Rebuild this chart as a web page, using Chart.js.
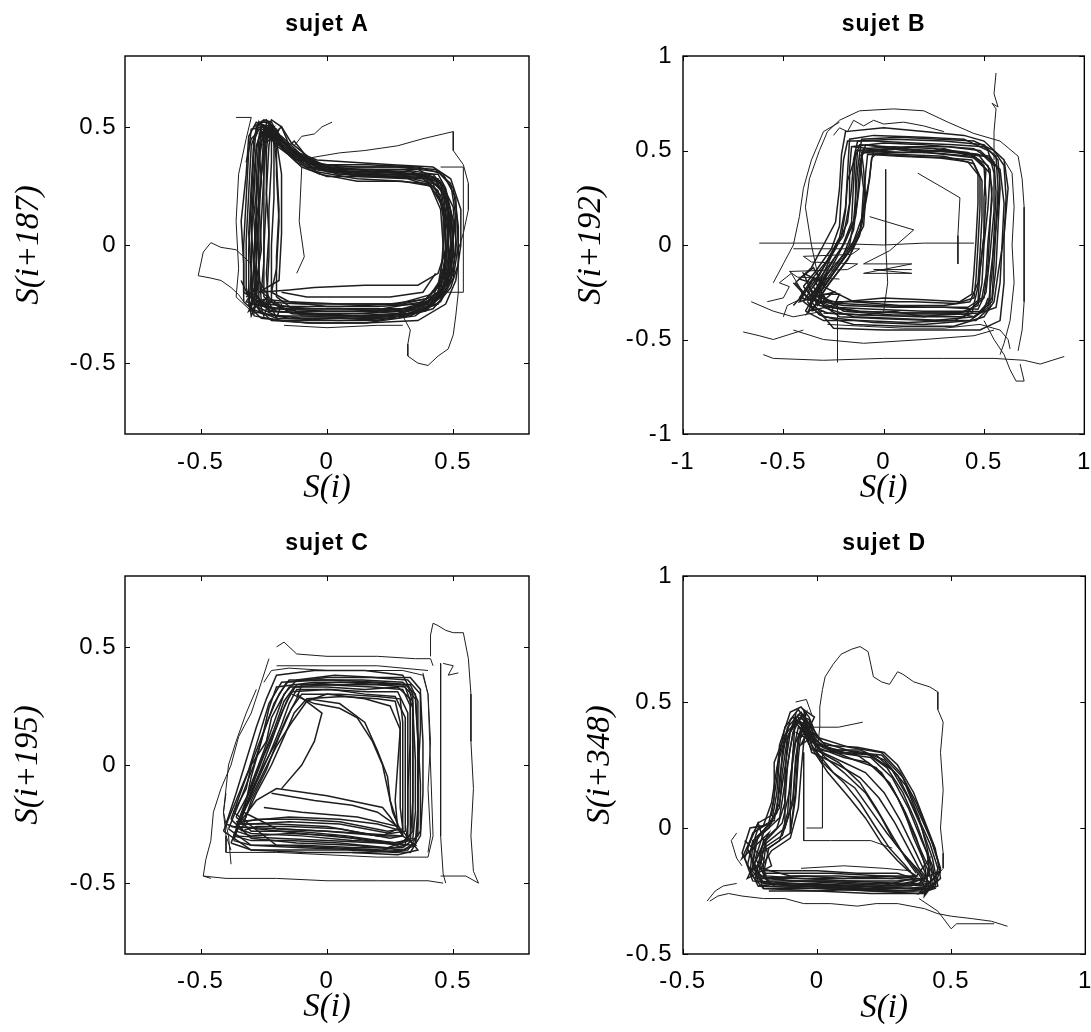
<!DOCTYPE html>
<html>
<head>
<meta charset="utf-8">
<title>sujets A - D</title>
<script src="https://cdn.jsdelivr.net/npm/chart.js@4.4.1/dist/chart.umd.min.js"></script>
<style>
  html, body { margin: 0; padding: 0; background: #fff; overflow: hidden; }
  body { width: 1091px; height: 1032px; position: relative; }
  canvas { position: absolute; }
</style>
</head>
<body>
<canvas id="chartA" width="545" height="516" style="left:0;top:0"></canvas>
<canvas id="chartB" width="560" height="516" style="left:545px;top:0"></canvas>
<canvas id="chartC" width="545" height="516" style="left:0;top:516px"></canvas>
<canvas id="chartD" width="560" height="516" style="left:545px;top:516px"></canvas>
<script>
// Phase portraits S(i) vs S(i+delay), one loop per cycle, flat [x0,y0,x1,y1,...]

// ---- sujet A (delay 187) ----
const ticksA = [-0.5, 0, 0.5];
const rangeA = [-0.8, 0.8];
const loopsA = [
  [-0.28,-0.22, -0.29,-0.05, -0.28,0.15, -0.27,0.35, -0.25,0.49, -0.2,0.45, -0.12,0.37, -0.02,0.32, 0.15,0.31, 0.35,0.3, 0.43,0.27, 0.48,0.18, 0.49,0.02, 0.48,-0.14, 0.43,-0.23, 0.3,-0.27, 0.1,-0.28, -0.12,-0.28, -0.24,-0.26, -0.28,-0.22],
  [-0.3,-0.2, -0.3,0.0, -0.29,0.2, -0.28,0.4, -0.26,0.51, -0.22,0.5, -0.16,0.42, -0.06,0.34, 0.1,0.32, 0.3,0.32, 0.42,0.3, 0.47,0.23, 0.5,0.1, 0.5,-0.05, 0.47,-0.17, 0.4,-0.26, 0.25,-0.3, 0.0,-0.3, -0.2,-0.3, -0.28,-0.26, -0.3,-0.2],
  [-0.26,-0.24, -0.27,-0.1, -0.26,0.1, -0.25,0.3, -0.24,0.46, -0.2,0.47, -0.14,0.4, -0.04,0.33, 0.12,0.29, 0.32,0.28, 0.41,0.25, 0.46,0.16, 0.47,0.0, 0.46,-0.13, 0.41,-0.21, 0.28,-0.25, 0.05,-0.26, -0.15,-0.26, -0.24,-0.25, -0.26,-0.24],
  [-0.32,-0.18, -0.32,0.02, -0.31,0.22, -0.3,0.42, -0.27,0.52, -0.23,0.52, -0.19,0.45, -0.1,0.36, 0.05,0.33, 0.28,0.33, 0.44,0.31, 0.5,0.24, 0.52,0.08, 0.52,-0.08, 0.49,-0.18, 0.42,-0.27, 0.28,-0.31, 0.05,-0.32, -0.2,-0.31, -0.3,-0.27, -0.32,-0.18],
  [-0.24,-0.26, -0.23,-0.05, -0.23,0.15, -0.22,0.35, -0.22,0.47, -0.18,0.44, -0.1,0.37, 0.0,0.31, 0.18,0.3, 0.38,0.29, 0.45,0.24, 0.49,0.12, 0.49,-0.04, 0.47,-0.16, 0.41,-0.25, 0.26,-0.28, 0.06,-0.27, -0.12,-0.27, -0.22,-0.27, -0.24,-0.26],
  [-0.29,-0.23, -0.28,-0.06, -0.29,0.12, -0.27,0.32, -0.26,0.48, -0.21,0.48, -0.15,0.41, -0.07,0.35, 0.08,0.31, 0.26,0.31, 0.4,0.29, 0.46,0.22, 0.48,0.06, 0.47,-0.1, 0.44,-0.2, 0.36,-0.27, 0.15,-0.29, -0.05,-0.29, -0.22,-0.28, -0.29,-0.23],
  [-0.27,-0.2, -0.19,-0.15, -0.18,0.05, -0.18,0.3, -0.2,0.44, -0.15,0.4, -0.06,0.33, 0.1,0.3, 0.3,0.29, 0.42,0.26, 0.46,0.15, 0.47,-0.02, 0.44,-0.12, 0.36,-0.17, 0.15,-0.17, -0.05,-0.18, -0.15,-0.19, -0.27,-0.2],
  [-0.31,-0.21, -0.31,-0.02, -0.3,0.18, -0.29,0.38, -0.28,0.5, -0.24,0.53, -0.2,0.46, -0.13,0.39, -0.03,0.34, 0.16,0.34, 0.36,0.33, 0.46,0.3, 0.51,0.2, 0.52,0.0, 0.5,-0.14, 0.45,-0.24, 0.33,-0.3, 0.12,-0.31, -0.1,-0.31, -0.26,-0.29, -0.31,-0.21],
  [-0.25,-0.22, -0.25,-0.02, -0.24,0.2, -0.24,0.4, -0.23,0.5, -0.19,0.46, -0.11,0.38, -0.01,0.33, 0.14,0.32, 0.33,0.31, 0.44,0.28, 0.48,0.18, 0.48,0.05, 0.48,-0.1, 0.45,-0.2, 0.38,-0.26, 0.2,-0.28, 0.0,-0.28, -0.18,-0.27, -0.25,-0.22],
  [-0.3,-0.25, -0.29,-0.08, -0.28,0.08, -0.28,0.28, -0.27,0.45, -0.23,0.49, -0.17,0.43, -0.09,0.36, 0.04,0.3, 0.22,0.29, 0.39,0.28, 0.45,0.21, 0.47,0.09, 0.47,-0.07, 0.44,-0.18, 0.38,-0.24, 0.22,-0.27, 0.02,-0.27, -0.2,-0.27, -0.3,-0.25],
  [-0.27,-0.27, -0.27,-0.1, -0.27,0.1, -0.26,0.3, -0.25,0.47, -0.2,0.43, -0.13,0.37, -0.05,0.32, 0.1,0.3, 0.3,0.3, 0.42,0.29, 0.47,0.2, 0.5,0.04, 0.49,-0.12, 0.45,-0.22, 0.35,-0.3, 0.15,-0.33, -0.05,-0.33, -0.22,-0.32, -0.27,-0.27],
  [-0.33,-0.2, -0.33,0.0, -0.32,0.2, -0.31,0.4, -0.3,0.49, -0.25,0.5, -0.21,0.44, -0.14,0.38, -0.04,0.31, 0.12,0.28, 0.3,0.27, 0.41,0.25, 0.45,0.15, 0.46,0.0, 0.45,-0.14, 0.42,-0.22, 0.3,-0.25, 0.1,-0.25, -0.1,-0.25, -0.27,-0.24, -0.33,-0.2],
  [-0.22,-0.24, -0.22,0.0, -0.21,0.2, -0.21,0.38, -0.21,0.46, -0.17,0.43, -0.1,0.36, 0.02,0.32, 0.2,0.32, 0.36,0.32, 0.45,0.27, 0.5,0.16, 0.51,0.02, 0.5,-0.12, 0.46,-0.21, 0.39,-0.28, 0.24,-0.3, 0.04,-0.3, -0.14,-0.29, -0.22,-0.24],
  [-0.28,-0.21, -0.28,-0.03, -0.27,0.17, -0.27,0.37, -0.26,0.5, -0.22,0.51, -0.17,0.44, -0.08,0.35, 0.06,0.31, 0.24,0.3, 0.4,0.3, 0.46,0.25, 0.49,0.14, 0.5,-0.02, 0.49,-0.14, 0.44,-0.22, 0.32,-0.28, 0.12,-0.29, -0.08,-0.29, -0.23,-0.28, -0.28,-0.21],
  [-0.31,-0.26, -0.3,-0.12, -0.31,0.05, -0.3,0.25, -0.29,0.44, -0.27,0.49, -0.23,0.49, -0.2,0.42, -0.15,0.38, -0.08,0.33, 0.05,0.3, 0.2,0.29, 0.38,0.28, 0.44,0.23, 0.46,0.12, 0.46,-0.05, 0.44,-0.17, 0.39,-0.23, 0.25,-0.25, 0.05,-0.25, -0.15,-0.24, -0.25,-0.23, -0.31,-0.26],
  [-0.2,-0.22, -0.2,-0.05, -0.19,0.15, -0.2,0.35, -0.21,0.45, -0.17,0.41, -0.11,0.36, -0.02,0.34, 0.12,0.33, 0.3,0.33, 0.43,0.32, 0.49,0.26, 0.51,0.12, 0.51,-0.03, 0.49,-0.15, 0.44,-0.25, 0.3,-0.3, 0.1,-0.31, -0.1,-0.3, -0.2,-0.22],
  [-0.29,-0.3, -0.28,-0.15, -0.26,-0.02, -0.27,0.2, -0.25,0.38, -0.24,0.52, -0.2,0.49, -0.18,0.41, -0.12,0.35, -0.03,0.3, 0.12,0.27, 0.28,0.27, 0.4,0.26, 0.45,0.19, 0.48,0.05, 0.48,-0.1, 0.46,-0.2, 0.38,-0.28, 0.2,-0.32, 0.0,-0.32, -0.18,-0.32, -0.29,-0.3],
  [-0.33,-0.24, -0.33,-0.08, -0.34,0.1, -0.32,0.3, -0.31,0.46, -0.28,0.52, -0.24,0.5, -0.18,0.46, -0.11,0.39, -0.04,0.36, 0.1,0.35, 0.26,0.34, 0.42,0.33, 0.49,0.28, 0.53,0.15, 0.53,0.0, 0.51,-0.15, 0.47,-0.25, 0.36,-0.32, 0.15,-0.33, -0.08,-0.33, -0.26,-0.31, -0.33,-0.24],
  [-0.23,-0.28, -0.24,-0.12, -0.23,0.05, -0.24,0.22, -0.23,0.42, -0.22,0.49, -0.18,0.45, -0.12,0.39, -0.06,0.33, 0.06,0.31, 0.22,0.31, 0.37,0.3, 0.45,0.26, 0.48,0.15, 0.49,0.0, 0.47,-0.12, 0.43,-0.22, 0.33,-0.27, 0.15,-0.27, -0.05,-0.27, -0.18,-0.26, -0.23,-0.28],
  [-0.26,-0.2, -0.25,-0.07, -0.25,0.12, -0.25,0.3, -0.25,0.45, -0.22,0.53, -0.18,0.5, -0.14,0.43, -0.07,0.37, 0.02,0.32, 0.18,0.32, 0.34,0.3, 0.44,0.3, 0.47,0.24, 0.5,0.1, 0.49,-0.06, 0.48,-0.16, 0.42,-0.24, 0.28,-0.29, 0.08,-0.3, -0.14,-0.29, -0.26,-0.2],
  [-0.3,-0.28, -0.29,-0.1, -0.3,0.08, -0.29,0.28, -0.28,0.42, -0.26,0.48, -0.21,0.46, -0.16,0.39, -0.1,0.33, 0.0,0.29, 0.15,0.29, 0.32,0.29, 0.43,0.28, 0.47,0.2, 0.48,0.08, 0.47,-0.08, 0.45,-0.19, 0.4,-0.27, 0.25,-0.31, 0.05,-0.31, -0.15,-0.31, -0.3,-0.28],
  [-0.28,-0.24, -0.27,-0.1, -0.28,0.1, -0.26,0.27, -0.27,0.43, -0.23,0.48, -0.2,0.41, -0.2,0.3, -0.19,0.1, -0.2,-0.1, -0.22,-0.2, -0.15,-0.24, 0.0,-0.26, 0.2,-0.26, 0.36,-0.25, 0.44,-0.2, 0.47,-0.05, 0.47,0.12, 0.45,0.24, 0.38,0.3, 0.2,0.31, 0.0,0.33, -0.1,0.38, -0.18,0.44, -0.25,0.5],
  [-0.32,-0.22, -0.3,-0.2, -0.26,-0.24, -0.2,-0.28, -0.05,-0.29, 0.15,-0.3, 0.32,-0.29, 0.42,-0.25, 0.46,-0.2, 0.47,-0.1],
  [-0.18,-0.2, -0.08,-0.22, 0.1,-0.22, 0.25,-0.22, 0.38,-0.2, 0.43,-0.12],
  [-0.29,0.5, -0.25,0.53, -0.22,0.52, -0.2,0.48, -0.18,0.5, -0.16,0.45, -0.15,0.42, -0.13,0.44, -0.1,0.4, -0.08,0.37],
  [-0.32,0.35, -0.3,0.45, -0.28,0.47, -0.27,0.52, -0.25,0.45, -0.23,0.5, -0.21,0.43, -0.19,0.49],
  [-0.34,-0.15, -0.31,-0.22, -0.3,-0.3, -0.27,-0.23, -0.25,-0.3, -0.23,-0.24, -0.2,-0.31, -0.18,-0.25],
  [-0.27,0.47, -0.21,0.5, -0.25,0.43, -0.19,0.47, -0.26,0.51, -0.22,0.44, -0.24,0.49],
  [-0.3,-0.18, -0.25,-0.26, -0.32,-0.24, -0.27,-0.15, -0.23,-0.22, -0.31,-0.28, -0.28,-0.2]
];
const excursionsA = [
  [-0.3,-0.08, -0.36,-0.02, -0.42,-0.01, -0.46,0.01, -0.49,-0.03, -0.5,-0.08, -0.51,-0.13, -0.46,-0.14, -0.42,-0.15, -0.38,-0.18, -0.35,-0.21, -0.33,-0.24, -0.3,-0.27],
  [0.3,-0.3, 0.33,-0.36, 0.32,-0.42, 0.32,-0.47, 0.36,-0.5, 0.4,-0.51, 0.44,-0.47, 0.48,-0.44, 0.5,-0.38, 0.51,-0.3, 0.52,-0.2, 0.52,-0.05, 0.5,0.1],
  [-0.06,0.37, 0.05,0.39, 0.15,0.4, 0.28,0.42, 0.38,0.45, 0.46,0.47, 0.5,0.48, 0.5,0.4, 0.54,0.34, 0.56,0.26, 0.56,0.15, 0.54,0.05, 0.52,-0.02],
  [-0.13,0.42, -0.1,0.46, -0.05,0.47, -0.02,0.5, 0.02,0.52],
  [-0.36,0.54, -0.3,0.54, -0.32,0.45, -0.35,0.3, -0.36,0.1, -0.35,-0.1, -0.36,-0.22, -0.3,-0.28],
  [-0.17,-0.34, 0.0,-0.35, 0.2,-0.34, 0.3,-0.34],
  [0.45,-0.2, 0.54,-0.2, 0.54,0.33, 0.45,0.33],
  [-0.1,0.33, -0.11,0.1, -0.09,-0.05, -0.12,-0.12]
];

// ---- sujet B (delay 192) ----
const ticksB = [-1, -0.5, 0, 0.5, 1];
const rangeB = [-1, 1];
const loopsB = [
  [-0.36,-0.28, -0.3,-0.18, -0.2,-0.05, -0.15,0.08, -0.13,0.25, -0.12,0.42, -0.1,0.51, 0.05,0.52, 0.25,0.51, 0.42,0.49, 0.52,0.42, 0.54,0.3, 0.53,0.1, 0.52,-0.1, 0.5,-0.28, 0.42,-0.35, 0.2,-0.35, -0.05,-0.34, -0.25,-0.33, -0.36,-0.28],
  [-0.38,-0.25, -0.32,-0.15, -0.24,-0.02, -0.18,0.12, -0.16,0.3, -0.15,0.45, -0.13,0.55, 0.05,0.56, 0.3,0.55, 0.5,0.53, 0.57,0.45, 0.58,0.3, 0.57,0.1, 0.56,-0.12, 0.54,-0.3, 0.45,-0.38, 0.25,-0.4, 0.0,-0.39, -0.22,-0.38, -0.38,-0.25],
  [-0.33,-0.3, -0.27,-0.2, -0.18,-0.08, -0.12,0.05, -0.1,0.2, -0.09,0.38, -0.08,0.48, 0.08,0.47, 0.28,0.46, 0.42,0.44, 0.48,0.36, 0.48,0.2, 0.47,0.0, 0.46,-0.18, 0.45,-0.28, 0.36,-0.31, 0.15,-0.3, -0.08,-0.3, -0.25,-0.3, -0.33,-0.3],
  [-0.4,-0.3, -0.34,-0.2, -0.27,-0.06, -0.2,0.05, -0.17,0.22, -0.17,0.4, -0.16,0.52, 0.0,0.54, 0.2,0.53, 0.45,0.51, 0.55,0.44, 0.56,0.28, 0.55,0.06, 0.54,-0.15, 0.52,-0.33, 0.43,-0.4, 0.2,-0.42, -0.05,-0.41, -0.3,-0.38, -0.4,-0.3],
  [-0.35,-0.22, -0.28,-0.12, -0.2,0.0, -0.14,0.15, -0.12,0.32, -0.11,0.46, -0.09,0.53, 0.1,0.5, 0.3,0.48, 0.46,0.46, 0.53,0.38, 0.52,0.2, 0.5,0.0, 0.49,-0.2, 0.47,-0.32, 0.38,-0.36, 0.12,-0.36, -0.12,-0.35, -0.3,-0.32, -0.35,-0.22],
  [-0.37,-0.32, -0.31,-0.22, -0.23,-0.1, -0.17,0.0, -0.14,0.18, -0.14,0.36, -0.13,0.5, 0.02,0.49, 0.22,0.49, 0.44,0.47, 0.51,0.4, 0.5,0.25, 0.5,0.05, 0.48,-0.14, 0.47,-0.3, 0.4,-0.38, 0.18,-0.38, -0.1,-0.37, -0.28,-0.36, -0.37,-0.32],
  [-0.32,-0.26, -0.25,-0.15, -0.17,-0.03, -0.11,0.1, -0.08,0.28, -0.06,0.45, -0.05,0.5, 0.12,0.52, 0.32,0.52, 0.48,0.5, 0.58,0.4, 0.6,0.22, 0.59,0.0, 0.58,-0.2, 0.56,-0.33, 0.48,-0.36, 0.3,-0.37, 0.05,-0.37, -0.2,-0.35, -0.32,-0.26],
  [-0.42,-0.28, -0.35,-0.17, -0.28,-0.08, -0.22,0.04, -0.19,0.2, -0.18,0.38, -0.17,0.56, -0.05,0.58, 0.2,0.57, 0.4,0.56, 0.52,0.5, 0.55,0.38, 0.55,0.18, 0.53,-0.05, 0.51,-0.25, 0.47,-0.34, 0.3,-0.33, 0.05,-0.33, -0.2,-0.32, -0.42,-0.28],
  [-0.34,-0.27, -0.29,-0.21, -0.22,-0.1, -0.15,0.02, -0.11,0.14, -0.1,0.3, -0.12,0.47, -0.08,0.5, 0.1,0.49, 0.3,0.5, 0.47,0.48, 0.53,0.4, 0.54,0.24, 0.52,0.02, 0.51,-0.16, 0.49,-0.28, 0.42,-0.33, 0.22,-0.33, -0.02,-0.32, -0.22,-0.31, -0.34,-0.27],
  [-0.39,-0.35, -0.33,-0.24, -0.26,-0.12, -0.21,-0.02, -0.16,0.12, -0.15,0.33, -0.14,0.5, 0.05,0.51, 0.25,0.5, 0.44,0.48, 0.5,0.42, 0.51,0.25, 0.5,0.05, 0.47,-0.22, 0.44,-0.36, 0.35,-0.4, 0.12,-0.41, -0.12,-0.4, -0.3,-0.4, -0.39,-0.35],
  [-0.3,-0.22, -0.24,-0.13, -0.16,-0.02, -0.1,0.1, -0.09,0.25, -0.1,0.4, -0.11,0.49, 0.06,0.48, 0.3,0.47, 0.45,0.43, 0.49,0.34, 0.49,0.15, 0.48,-0.05, 0.47,-0.2, 0.43,-0.3, 0.3,-0.32, 0.08,-0.32, -0.15,-0.3, -0.3,-0.22],
  [-0.44,-0.2, -0.36,-0.12, -0.3,0.0, -0.24,0.12, -0.22,0.3, -0.21,0.48, -0.19,0.6, 0.0,0.62, 0.2,0.6, 0.4,0.58, 0.5,0.55, 0.6,0.45, 0.62,0.3, 0.6,0.05, 0.6,-0.2, 0.58,-0.4, 0.48,-0.45, 0.25,-0.45, 0.0,-0.45, -0.25,-0.44, -0.44,-0.2],
  [-0.4,-0.22, -0.34,-0.14, -0.26,-0.02, -0.22,0.1, -0.21,0.3, -0.2,0.45, -0.18,0.55, -0.05,0.55, 0.15,0.54, 0.35,0.53, 0.5,0.52, 0.56,0.47, 0.57,0.3, 0.56,0.1, 0.55,-0.1, 0.54,-0.28, 0.48,-0.35, 0.3,-0.36, 0.1,-0.36, -0.15,-0.35, -0.32,-0.32, -0.4,-0.22],
  [-0.36,-0.35, -0.31,-0.26, -0.24,-0.16, -0.17,-0.06, -0.12,0.06, -0.1,0.2, -0.07,0.35, -0.06,0.46, -0.04,0.48, 0.14,0.47, 0.32,0.46, 0.44,0.45, 0.47,0.38, 0.47,0.22, 0.46,0.02, 0.45,-0.14, 0.44,-0.26, 0.38,-0.3, 0.2,-0.29, 0.0,-0.28, -0.2,-0.3, -0.36,-0.35],
  [-0.33,-0.22, -0.27,-0.08, -0.21,0.05, -0.19,0.18, -0.18,0.34, -0.14,0.47, -0.12,0.53, 0.02,0.52, 0.18,0.5, 0.38,0.49, 0.53,0.47, 0.58,0.38, 0.57,0.2, 0.55,0.0, 0.53,-0.18, 0.53,-0.33, 0.46,-0.4, 0.3,-0.4, 0.1,-0.39, -0.15,-0.38, -0.3,-0.33, -0.33,-0.22],
  [-0.38,-0.3, -0.35,-0.25, -0.3,-0.17, -0.25,-0.08, -0.19,0.02, -0.15,0.12, -0.14,0.25, -0.13,0.4, -0.11,0.56, 0.08,0.57, 0.28,0.56, 0.45,0.55, 0.55,0.5, 0.6,0.42, 0.61,0.25, 0.6,0.05, 0.57,-0.15, 0.55,-0.3, 0.5,-0.38, 0.35,-0.43, 0.1,-0.43, -0.15,-0.42, -0.32,-0.37, -0.38,-0.3],
  [-0.45,-0.2, -0.38,-0.28, -0.3,-0.2, -0.4,-0.15, -0.33,-0.32, -0.25,-0.25, -0.42,-0.3, -0.35,-0.18, -0.28,-0.3, -0.36,-0.24],
  [-0.45,-0.32, -0.4,-0.26, -0.36,-0.2, -0.42,-0.18, -0.35,-0.12, -0.3,-0.22, -0.28,-0.14, -0.38,-0.36, -0.32,-0.3, -0.26,-0.35, -0.22,-0.26, -0.3,-0.26],
  [-0.15,0.52, 0.0,0.5, 0.1,0.51, 0.2,0.49, 0.3,0.51, 0.4,0.48, 0.5,0.47, 0.55,0.42],
  [-0.3,-0.36, -0.1,-0.37, 0.05,-0.35, 0.2,-0.38, 0.35,-0.36, 0.45,-0.38, 0.5,-0.34, 0.52,-0.28]
];
const excursionsB = [
  [-0.32,-0.2, -0.36,0.0, -0.39,0.2, -0.37,0.35, -0.32,0.5, -0.28,0.6, -0.22,0.66, -0.12,0.71, 0.05,0.72, 0.2,0.71, 0.32,0.65, 0.45,0.59, 0.58,0.55, 0.67,0.47, 0.69,0.35, 0.7,0.2, 0.7,-0.1, 0.7,-0.3, 0.69,-0.45, 0.67,-0.56],
  [-0.55,-0.2, -0.5,-0.1, -0.45,0.0, -0.42,0.15, -0.4,0.3, -0.36,0.45, -0.3,0.6, -0.22,0.65],
  [-0.62,0.01, -0.3,0.01, 0.0,0.0, 0.2,0.01, 0.45,0.01],
  [0.55,0.45, 0.55,0.6, 0.56,0.72, 0.54,0.75, 0.57,0.73, 0.55,0.8, 0.56,0.91],
  [0.01,0.4, 0.01,0.2, 0.01,0.0, 0.02,-0.2, 0.0,-0.35],
  [-0.6,-0.58, -0.55,-0.6, -0.3,-0.61, 0.0,-0.6, 0.3,-0.6, 0.55,-0.6, 0.7,-0.61, 0.78,-0.63, 0.84,-0.61, 0.9,-0.59],
  [-0.3,-0.35, -0.45,-0.38, -0.55,-0.35, -0.66,-0.3],
  [-0.4,-0.45, -0.55,-0.5, -0.62,-0.48, -0.7,-0.46],
  [0.5,-0.4, 0.55,-0.5, 0.6,-0.58, 0.63,-0.66, 0.66,-0.72, 0.7,-0.72, 0.68,-0.63],
  [-0.45,-0.45, -0.3,-0.5, -0.1,-0.52, 0.2,-0.5, 0.45,-0.48, 0.55,-0.45],
  [-0.07,0.15, 0.15,0.08, 0.03,-0.03, -0.1,-0.1, 0.14,-0.1, -0.1,-0.15, 0.14,-0.15, -0.05,-0.13, 0.14,-0.13],
  [0.17,0.38, 0.3,0.3, 0.38,0.25, 0.37,0.05, 0.37,-0.1],
  [-0.23,-0.3, -0.23,-0.45, -0.23,-0.62],
  [-0.45,-0.02, -0.12,-0.02, -0.16,-0.05, -0.4,-0.06, -0.36,-0.09, -0.13,-0.1, -0.18,-0.13, -0.47,-0.14, -0.43,-0.17, -0.22,-0.18],
  [-0.58,-0.3, -0.5,-0.28, -0.47,-0.22, -0.52,-0.2, -0.46,-0.15, -0.42,-0.22, -0.4,-0.28, -0.48,-0.32, -0.5,-0.38],
  [-0.28,-0.42, -0.1,-0.43, 0.1,-0.44, 0.3,-0.44, 0.48,-0.42, 0.58,-0.45, 0.62,-0.5, 0.63,-0.55],
  [0.6,0.45, 0.64,0.38, 0.65,0.2, 0.64,0.0, 0.65,-0.2, 0.63,-0.4, 0.6,-0.52, 0.58,-0.58],
  [-0.25,0.58, -0.22,0.62, -0.18,0.6, -0.15,0.66, -0.1,0.63, -0.05,0.66, 0.0,0.64, 0.1,0.65, 0.2,0.63, 0.3,0.6]
];

// ---- sujet C (delay 195) ----
const ticksC = [-0.5, 0, 0.5];
const rangeC = [-0.8, 0.8];
const loopsC = [
  [-0.36,-0.26, -0.31,-0.12, -0.26,0.02, -0.21,0.15, -0.17,0.27, -0.13,0.33, 0.0,0.34, 0.18,0.33, 0.3,0.32, 0.33,0.25, 0.33,0.05, 0.33,-0.15, 0.33,-0.3, 0.28,-0.34, 0.1,-0.31, -0.1,-0.29, -0.28,-0.27, -0.36,-0.26],
  [-0.38,-0.23, -0.33,-0.08, -0.28,0.06, -0.23,0.2, -0.19,0.3, -0.15,0.36, 0.02,0.36, 0.2,0.35, 0.33,0.34, 0.36,0.27, 0.36,0.05, 0.36,-0.18, 0.35,-0.33, 0.3,-0.36, 0.1,-0.34, -0.12,-0.33, -0.3,-0.31, -0.38,-0.23],
  [-0.34,-0.28, -0.3,-0.15, -0.24,-0.02, -0.19,0.12, -0.14,0.24, -0.1,0.3, 0.05,0.3, 0.2,0.29, 0.29,0.28, 0.3,0.18, 0.3,-0.02, 0.3,-0.2, 0.3,-0.3, 0.25,-0.31, 0.05,-0.27, -0.15,-0.26, -0.28,-0.26, -0.34,-0.28],
  [-0.37,-0.3, -0.32,-0.17, -0.27,-0.04, -0.22,0.1, -0.18,0.22, -0.14,0.31, 0.0,0.32, 0.16,0.31, 0.28,0.31, 0.32,0.22, 0.32,0.0, 0.32,-0.22, 0.32,-0.32, 0.24,-0.35, 0.05,-0.33, -0.15,-0.32, -0.3,-0.32, -0.37,-0.3],
  [-0.39,-0.27, -0.34,-0.14, -0.29,0.0, -0.25,0.14, -0.21,0.26, -0.16,0.35, 0.0,0.37, 0.18,0.37, 0.32,0.36, 0.37,0.3, 0.38,0.1, 0.38,-0.12, 0.37,-0.3, 0.33,-0.37, 0.15,-0.36, -0.1,-0.35, -0.3,-0.34, -0.39,-0.27],
  [-0.35,-0.25, -0.29,-0.1, -0.23,0.04, -0.18,0.17, -0.15,0.26, -0.12,0.32, 0.02,0.32, 0.15,0.3, 0.27,0.29, 0.31,0.2, 0.31,0.0, 0.31,-0.2, 0.31,-0.28, 0.25,-0.29, 0.05,-0.25, -0.15,-0.24, -0.3,-0.25, -0.35,-0.25],
  [-0.36,-0.22, -0.3,-0.1, -0.25,0.04, -0.2,0.16, -0.16,0.27, -0.12,0.34, 0.04,0.34, 0.2,0.34, 0.31,0.33, 0.34,0.24, 0.35,0.02, 0.35,-0.2, 0.34,-0.31, 0.27,-0.33, 0.08,-0.3, -0.12,-0.28, -0.3,-0.28, -0.36,-0.22],
  [-0.4,-0.25, -0.36,-0.12, -0.32,0.02, -0.28,0.16, -0.24,0.28, -0.2,0.38, -0.05,0.4, 0.15,0.4, 0.3,0.38, 0.34,0.3, 0.34,0.1, 0.34,-0.1, 0.34,-0.28, 0.3,-0.33, 0.1,-0.32, -0.1,-0.3, -0.3,-0.29, -0.4,-0.25],
  [-0.35,-0.25, -0.28,-0.15, -0.2,-0.1, 0.0,-0.13, 0.22,-0.18, 0.25,-0.22, 0.3,-0.3, 0.2,-0.3, 0.0,-0.26, -0.2,-0.25, -0.35,-0.25],
  [-0.14,0.3, -0.05,0.26, 0.05,0.24, 0.12,0.2, 0.18,0.1, 0.22,0.0, 0.24,-0.1, 0.26,-0.2, 0.3,-0.3],
  [-0.12,0.3, -0.02,0.22, -0.05,0.1, -0.1,0.0, -0.18,-0.1],
  [-0.33,-0.2, -0.26,-0.05, -0.2,0.08, -0.14,0.18, -0.08,0.27, 0.0,0.3, 0.15,0.28, 0.25,0.25, 0.29,0.15, 0.28,0.0, 0.27,-0.15, 0.28,-0.27, 0.22,-0.3, 0.0,-0.28, -0.2,-0.27, -0.33,-0.2],
  [-0.37,-0.32, -0.33,-0.2, -0.3,-0.05, -0.26,0.1, -0.23,0.24, -0.2,0.33, -0.05,0.35, 0.15,0.35, 0.3,0.34, 0.35,0.28, 0.36,0.1, 0.36,-0.1, 0.36,-0.3, 0.3,-0.35, 0.12,-0.35, -0.1,-0.34, -0.3,-0.34, -0.37,-0.32],
  [-0.41,-0.28, -0.36,-0.15, -0.31,-0.02, -0.27,0.12, -0.23,0.26, -0.18,0.35, -0.02,0.36, 0.14,0.36, 0.3,0.35, 0.35,0.3, 0.36,0.12, 0.37,-0.08, 0.37,-0.28, 0.32,-0.36, 0.15,-0.37, -0.08,-0.37, -0.3,-0.36, -0.41,-0.28],
  [-0.33,-0.24, -0.28,-0.12, -0.22,0.0, -0.17,0.12, -0.13,0.22, -0.08,0.28, 0.06,0.29, 0.2,0.28, 0.27,0.27, 0.29,0.18, 0.29,0.0, 0.29,-0.18, 0.3,-0.27, 0.24,-0.28, 0.05,-0.24, -0.12,-0.23, -0.27,-0.23, -0.33,-0.24],
  [-0.38,-0.33, -0.34,-0.22, -0.3,-0.08, -0.25,0.06, -0.21,0.18, -0.17,0.3, -0.12,0.36, 0.03,0.38, 0.2,0.37, 0.33,0.37, 0.37,0.32, 0.37,0.15, 0.36,-0.05, 0.36,-0.25, 0.35,-0.34, 0.28,-0.37, 0.08,-0.36, -0.12,-0.36, -0.3,-0.36, -0.38,-0.33],
  [-0.36,-0.28, -0.33,-0.2, -0.3,-0.11, -0.26,-0.02, -0.2,0.1, -0.16,0.2, -0.12,0.28, -0.1,0.34, 0.05,0.35, 0.22,0.34, 0.32,0.34, 0.34,0.26, 0.34,0.05, 0.34,-0.15, 0.33,-0.32, 0.26,-0.33, 0.05,-0.3, -0.15,-0.29, -0.3,-0.3, -0.36,-0.28],
  [-0.37,-0.2, -0.32,-0.1, -0.3,0.0, -0.24,0.1, -0.22,0.2, -0.18,0.28, -0.15,0.33, 0.0,0.33, 0.15,0.32, 0.28,0.33, 0.33,0.28, 0.33,0.1, 0.32,-0.1, 0.32,-0.25, 0.31,-0.34, 0.22,-0.36, 0.02,-0.35, -0.2,-0.34, -0.37,-0.2],
  [-0.38,-0.26, -0.2,-0.27, 0.0,-0.28, 0.15,-0.29, 0.3,-0.3, 0.35,-0.34, 0.2,-0.33, 0.0,-0.32, -0.2,-0.31, -0.37,-0.3],
  [-0.36,-0.24, -0.15,-0.22, 0.05,-0.23, 0.2,-0.25, 0.3,-0.28, 0.36,-0.36, 0.28,-0.38, 0.1,-0.37],
  [-0.22,-0.12, -0.05,-0.15, 0.1,-0.17, 0.2,-0.2, 0.28,-0.26, 0.12,-0.22, -0.1,-0.2, -0.25,-0.18],
  [-0.08,0.28, 0.05,0.26, 0.15,0.18, 0.2,0.06, 0.24,-0.05, 0.25,-0.15, 0.28,-0.25]
];
const excursionsC = [
  [-0.2,0.5, -0.17,0.52, -0.12,0.47, 0.0,0.46, 0.2,0.46, 0.35,0.45, 0.41,0.45, 0.42,0.42],
  [-0.23,0.45, -0.26,0.35, -0.3,0.22, -0.35,0.12, -0.38,0.0, -0.42,-0.1, -0.45,-0.2, -0.46,-0.32, -0.48,-0.4, -0.49,-0.47, -0.46,-0.48],
  [-0.49,-0.47, -0.4,-0.48, -0.2,-0.48, 0.0,-0.49, 0.2,-0.49, 0.4,-0.49, 0.46,-0.5],
  [0.45,0.43, 0.45,0.3, 0.45,0.1, 0.45,-0.1, 0.45,-0.3, 0.46,-0.46, 0.47,-0.5],
  [0.41,0.46, 0.41,0.55, 0.42,0.6, 0.44,0.59, 0.47,0.57, 0.5,0.56, 0.54,0.56, 0.56,0.45, 0.57,0.3, 0.57,0.1, 0.58,-0.1, 0.57,-0.3, 0.58,-0.45, 0.6,-0.5, 0.55,-0.47, 0.45,-0.47],
  [0.46,0.43, 0.5,0.42, 0.48,0.38, 0.52,0.39],
  [-0.2,0.42, 0.0,0.42, 0.2,0.42, 0.4,0.4],
  [-0.4,-0.3, -0.4,-0.37, -0.2,-0.37, 0.0,-0.38, 0.2,-0.39, 0.4,-0.39, 0.42,-0.3, 0.41,0.0, 0.4,0.3, 0.38,0.39],
  [-0.38,-0.42, -0.39,-0.3, -0.41,-0.2, -0.4,-0.12],
  [-0.28,0.32, -0.32,0.22, -0.36,0.1, -0.39,0.0, -0.4,-0.1, -0.41,-0.2, -0.4,-0.3, -0.38,-0.36],
  [-0.25,0.35, -0.22,0.4, -0.15,0.41, 0.0,0.4, 0.15,0.4, 0.3,0.4, 0.38,0.38, 0.4,0.3, 0.41,0.1, 0.4,-0.1, 0.41,-0.3, 0.4,-0.37]
];

// ---- sujet D (delay 348) ----
const ticksD = [-0.5, 0, 0.5, 1];
const rangeD = [-0.5, 1];
const loopsD = [
  [-0.22,-0.15, -0.2,-0.05, -0.15,0.0, -0.12,0.1, -0.11,0.25, -0.09,0.38, -0.06,0.44, -0.03,0.4, -0.01,0.33, 0.08,0.31, 0.18,0.3, 0.26,0.24, 0.32,0.14, 0.37,0.02, 0.41,-0.1, 0.42,-0.18, 0.38,-0.22, 0.2,-0.22, 0.0,-0.21, -0.18,-0.21, -0.22,-0.15],
  [-0.25,-0.1, -0.22,0.0, -0.16,0.03, -0.14,0.15, -0.13,0.3, -0.1,0.43, -0.07,0.47, -0.04,0.42, -0.02,0.36, 0.06,0.3, 0.2,0.28, 0.28,0.2, 0.34,0.08, 0.39,-0.05, 0.43,-0.15, 0.44,-0.22, 0.36,-0.25, 0.15,-0.24, -0.05,-0.23, -0.2,-0.22, -0.25,-0.1],
  [-0.2,-0.18, -0.18,-0.08, -0.1,-0.02, -0.08,0.12, -0.07,0.28, -0.06,0.38, -0.04,0.4, -0.02,0.33, 0.02,0.26, 0.1,0.18, 0.16,0.1, 0.22,0.0, 0.27,-0.08, 0.33,-0.15, 0.36,-0.19, 0.25,-0.19, 0.05,-0.18, -0.12,-0.18, -0.2,-0.18],
  [-0.27,-0.12, -0.24,-0.02, -0.18,0.02, -0.16,0.12, -0.16,0.26, -0.12,0.37, -0.08,0.42, -0.05,0.38, -0.02,0.31, 0.1,0.3, 0.22,0.29, 0.3,0.21, 0.36,0.08, 0.42,-0.06, 0.45,-0.16, 0.43,-0.24, 0.3,-0.25, 0.1,-0.24, -0.1,-0.23, -0.24,-0.21, -0.27,-0.12],
  [-0.23,-0.2, -0.21,-0.1, -0.14,-0.05, -0.11,0.06, -0.1,0.2, -0.08,0.34, -0.05,0.41, -0.02,0.37, 0.0,0.3, 0.06,0.22, 0.14,0.16, 0.2,0.07, 0.26,-0.02, 0.32,-0.1, 0.38,-0.17, 0.4,-0.21, 0.3,-0.2, 0.1,-0.2, -0.1,-0.2, -0.23,-0.2],
  [-0.24,-0.16, -0.23,-0.04, -0.19,0.0, -0.14,0.08, -0.13,0.22, -0.11,0.36, -0.07,0.45, -0.03,0.43, -0.01,0.35, 0.05,0.31, 0.15,0.29, 0.24,0.22, 0.3,0.12, 0.35,0.0, 0.4,-0.12, 0.44,-0.2, 0.39,-0.24, 0.22,-0.24, 0.02,-0.23, -0.16,-0.23, -0.24,-0.16],
  [-0.21,-0.13, -0.19,-0.05, -0.13,0.02, -0.1,0.16, -0.09,0.3, -0.07,0.4, -0.04,0.37, -0.02,0.3, 0.08,0.25, 0.16,0.2, 0.23,0.12, 0.29,0.02, 0.34,-0.08, 0.38,-0.16, 0.41,-0.2, 0.32,-0.22, 0.12,-0.21, -0.06,-0.2, -0.19,-0.19, -0.21,-0.13],
  [-0.26,-0.08, -0.22,0.02, -0.17,0.05, -0.15,0.2, -0.14,0.33, -0.1,0.46, -0.06,0.48, -0.03,0.44, 0.0,0.36, 0.12,0.32, 0.24,0.3, 0.31,0.22, 0.37,0.1, 0.42,-0.03, 0.45,-0.13, 0.46,-0.2, 0.4,-0.26, 0.2,-0.26, 0.0,-0.25, -0.2,-0.24, -0.26,-0.08],
  [-0.23,-0.12, -0.2,-0.02, -0.14,0.04, -0.12,0.18, -0.1,0.32, -0.08,0.42, -0.05,0.45, -0.03,0.39, 0.02,0.32, 0.14,0.27, 0.22,0.24, 0.28,0.16, 0.33,0.06, 0.37,-0.04, 0.4,-0.14, 0.41,-0.21, 0.35,-0.23, 0.18,-0.23, -0.02,-0.22, -0.18,-0.22, -0.23,-0.12],
  [-0.28,-0.1, -0.25,0.0, -0.2,0.01, -0.17,0.1, -0.15,0.24, -0.12,0.4, -0.09,0.44, -0.05,0.4, -0.02,0.34, 0.1,0.3, 0.2,0.29, 0.28,0.23, 0.34,0.12, 0.39,0.0, 0.43,-0.12, 0.45,-0.23, 0.38,-0.26, 0.2,-0.25, 0.0,-0.24, -0.22,-0.23, -0.28,-0.1],
  [-0.21,-0.16, -0.17,-0.09, -0.1,-0.04, -0.07,0.08, -0.06,0.22, -0.05,0.34, -0.04,0.38, -0.01,0.3, 0.04,0.22, 0.12,0.12, 0.18,0.04, 0.24,-0.06, 0.3,-0.13, 0.34,-0.17, 0.37,-0.19, 0.28,-0.2, 0.08,-0.19, -0.1,-0.19, -0.21,-0.16],
  [-0.25,-0.18, -0.24,-0.07, -0.2,-0.01, -0.15,0.06, -0.14,0.2, -0.12,0.34, -0.08,0.43, -0.04,0.41, 0.0,0.32, 0.1,0.28, 0.19,0.26, 0.27,0.18, 0.32,0.08, 0.36,-0.04, 0.41,-0.16, 0.43,-0.22, 0.4,-0.25, 0.22,-0.25, 0.02,-0.24, -0.2,-0.24, -0.25,-0.18],
  [-0.24,-0.14, -0.22,-0.03, -0.17,0.02, -0.15,0.14, -0.14,0.28, -0.11,0.4, -0.06,0.46, -0.02,0.4, 0.02,0.34, 0.14,0.3, 0.24,0.29, 0.32,0.2, 0.38,0.06, 0.43,-0.06, 0.46,-0.16, 0.44,-0.23, 0.33,-0.24, 0.12,-0.23, -0.08,-0.22, -0.22,-0.21, -0.24,-0.14],
  [-0.22,-0.19, -0.2,-0.08, -0.13,-0.03, -0.09,0.1, -0.08,0.25, -0.07,0.36, -0.05,0.42, -0.02,0.35, 0.03,0.28, 0.1,0.22, 0.18,0.14, 0.24,0.04, 0.29,-0.06, 0.35,-0.14, 0.39,-0.2, 0.3,-0.21, 0.1,-0.21, -0.1,-0.21, -0.22,-0.19],
  [-0.26,-0.15, -0.24,-0.05, -0.18,0.0, -0.14,0.1, -0.12,0.24, -0.1,0.38, -0.07,0.43, -0.03,0.38, 0.02,0.3, 0.1,0.26, 0.18,0.22, 0.25,0.14, 0.31,0.03, 0.36,-0.08, 0.4,-0.17, 0.42,-0.24, 0.36,-0.24, 0.16,-0.23, -0.04,-0.23, -0.2,-0.22, -0.26,-0.15],
  [-0.2,-0.14, -0.19,-0.06, -0.12,0.0, -0.09,0.12, -0.08,0.28, -0.06,0.4, -0.04,0.43, -0.01,0.37, 0.05,0.31, 0.16,0.31, 0.25,0.27, 0.33,0.17, 0.38,0.04, 0.41,-0.08, 0.43,-0.18, 0.42,-0.22, 0.3,-0.23, 0.1,-0.22, -0.08,-0.21, -0.2,-0.2, -0.2,-0.14],
  [-0.22,-0.2, -0.05,-0.19, 0.1,-0.2, 0.25,-0.19, 0.38,-0.2, 0.4,-0.23, 0.25,-0.22, 0.05,-0.23, -0.12,-0.22, -0.22,-0.23],
  [-0.2,-0.17, 0.0,-0.17, 0.15,-0.18, 0.3,-0.18, 0.36,-0.2, 0.2,-0.24, 0.0,-0.25, -0.18,-0.25],
  [-0.12,0.0, -0.12,0.2, -0.11,0.35, -0.08,0.45, -0.09,0.3, -0.1,0.1, -0.1,-0.02, -0.08,0.15, -0.07,0.35],
  [-0.02,0.32, 0.08,0.26, 0.16,0.18, 0.22,0.08, 0.28,-0.03, 0.33,-0.12, 0.37,-0.18],
  [0.0,0.33, 0.15,0.32, 0.25,0.3, 0.3,0.25, 0.36,0.14, 0.4,0.03, 0.44,-0.08, 0.46,-0.18],
  [-0.27,-0.05, -0.2,-0.12, -0.25,-0.18, -0.18,-0.02, -0.28,-0.12, -0.22,0.02, -0.17,-0.15, -0.26,-0.2, -0.2,-0.06],
  [0.36,-0.15, 0.44,-0.24, 0.38,-0.26, 0.46,-0.17, 0.35,-0.22, 0.42,-0.12, 0.4,-0.27, 0.45,-0.2],
  [-0.07,0.42, -0.02,0.36, -0.06,0.33, -0.01,0.44, -0.05,0.47, -0.03,0.35, -0.08,0.38],
  [-0.09,0.4, -0.04,0.46, -0.06,0.36, -0.02,0.41, -0.07,0.44, -0.03,0.33, -0.05,0.39, 0.0,0.37]
];
const excursionsD = [
  [0.0,0.3, 0.01,0.4, 0.01,0.48, 0.02,0.55, 0.03,0.6, 0.06,0.65, 0.09,0.69, 0.13,0.71, 0.16,0.72, 0.19,0.7, 0.2,0.65, 0.21,0.6, 0.24,0.58, 0.27,0.57, 0.3,0.62, 0.32,0.61, 0.36,0.58, 0.42,0.56, 0.45,0.54, 0.45,0.47, 0.47,0.42, 0.46,0.3, 0.47,0.15, 0.46,0.0, 0.47,-0.1, 0.47,-0.16],
  [-0.4,-0.29, -0.37,-0.27, -0.33,-0.26, -0.28,-0.27, -0.2,-0.28, -0.12,-0.28, -0.05,-0.3, 0.0,-0.3, 0.05,-0.3, 0.15,-0.31, 0.22,-0.3, 0.3,-0.3, 0.4,-0.32, 0.45,-0.34, 0.5,-0.35, 0.58,-0.36, 0.65,-0.37, 0.71,-0.39],
  [0.38,-0.28, 0.45,-0.33, 0.5,-0.4, 0.52,-0.38, 0.6,-0.38, 0.66,-0.38],
  [-0.3,-0.22, -0.35,-0.23, -0.38,-0.25, -0.41,-0.29],
  [-0.05,0.3, -0.05,0.1, -0.05,-0.05, 0.05,-0.05, 0.2,-0.05, 0.28,-0.08],
  [0.02,0.3, 0.02,0.15, 0.02,0.0, -0.04,0.0],
  [-0.06,-0.16, 0.1,-0.15, 0.25,-0.16, 0.35,-0.17],
  [-0.08,0.5, -0.04,0.51, -0.02,0.45],
  [-0.03,0.4, 0.08,0.4, 0.17,0.42],
  [-0.28,-0.15, -0.3,-0.12, -0.32,-0.05, -0.3,-0.02]
];

function toPoints(flat) {
  const pts = [];
  for (let i = 0; i < flat.length; i += 2) pts.push({ x: flat[i], y: flat[i + 1] });
  return pts;
}

const sans = '"Liberation Sans", Arial, sans-serif';
const serif = '"Liberation Serif", "Times New Roman", serif';

// tick labels get a little tracking, like the exported figure
const tracking = {
  id: 'tracking',
  beforeDraw(chart) { chart.ctx.letterSpacing = '1.5px'; },
  afterDraw(chart) { chart.ctx.letterSpacing = '0px'; }
};

// box with inward ticks on all four sides
const boxTicks = {
  id: 'boxTicks',
  afterDatasetsDraw(chart) {
    const { ctx, chartArea: a, scales: { x, y } } = chart;
    const len = 5;
    ctx.save();
    ctx.strokeStyle = '#000';
    ctx.lineWidth = 1;
    ctx.beginPath();
    x.ticks.forEach(t => {
      const px = Math.round(x.getPixelForValue(t.value)) + 0.5;
      ctx.moveTo(px, a.bottom); ctx.lineTo(px, a.bottom - len);
      ctx.moveTo(px, a.top); ctx.lineTo(px, a.top + len);
    });
    y.ticks.forEach(t => {
      const py = Math.round(y.getPixelForValue(t.value)) + 0.5;
      ctx.moveTo(a.left, py); ctx.lineTo(a.left + len, py);
      ctx.moveTo(a.right, py); ctx.lineTo(a.right - len, py);
    });
    ctx.stroke();
    ctx.lineWidth = 1.4;
    ctx.strokeRect(a.left, a.top, a.right - a.left, a.bottom - a.top);
    ctx.restore();
  }
};

// panel title and axis labels, placed relative to the plot box
const panelText = {
  id: 'panelText',
  afterDraw(chart, args, o) {
    const { ctx, chartArea: a } = chart;
    const cx = (a.left + a.right) / 2;
    const cy = (a.top + a.bottom) / 2;
    ctx.save();
    ctx.fillStyle = '#000';
    ctx.textAlign = 'center';
    ctx.textBaseline = 'middle';

    ctx.letterSpacing = '1px';
    ctx.font = 'bold 23px ' + sans;
    ctx.fillText(o.title, cx, o.titleY);

    ctx.letterSpacing = '0px';
    ctx.font = 'italic 33px ' + serif;
    ctx.fillText(o.xLabel, cx, o.xLabelY);

    ctx.translate(o.yLabelX, cy);
    ctx.rotate(-Math.PI / 2);
    ctx.fillText(o.yLabel, 0, 0);
    ctx.restore();
  }
};

const tickFont = { family: sans, size: 24 };

function makePanel(id, p) {
  const lines = p.loops.map(l => ({ data: toPoints(l), w: 1.5 }))
    .concat(p.excursions.map(l => ({ data: toPoints(l), w: 1 })));
  const datasets = lines.map(l => ({
    data: l.data,
    showLine: true,
    borderColor: '#1e1e1e',
    borderWidth: l.w,
    pointRadius: 0,
    fill: false
  }));
  return new Chart(document.getElementById(id), {
    type: 'scatter',
    data: { datasets },
    plugins: [tracking, boxTicks, panelText],
    options: {
      responsive: false,
      animation: false,
      events: [],
      layout: { padding: { top: p.top, right: p.right, left: 0, bottom: 0 } },
      plugins: {
        legend: { display: false },
        tooltip: { enabled: false },
        panelText: { title: p.title, titleY: p.titleY, xLabel: 'S(i)', xLabelY: p.xLabelY, yLabel: p.yLabel, yLabelX: p.yLabelX }
      },
      scales: {
        x: {
          type: 'linear', min: p.range[0], max: p.range[1],
          grid: { display: false, drawTicks: false },
          border: { display: false },
          afterBuildTicks: s => { s.ticks = p.ticks.map(v => ({ value: v })); },
          afterFit: s => { s.height = p.xHeight; },
          ticks: { font: tickFont, color: '#000', padding: p.xTickPad, maxRotation: 0, autoSkip: false, callback: v => String(v) }
        },
        y: {
          type: 'linear', min: p.range[0], max: p.range[1],
          grid: { display: false, drawTicks: false },
          border: { display: false },
          afterBuildTicks: s => { s.ticks = p.ticks.map(v => ({ value: v })); },
          afterFit: s => { s.width = p.yWidth; },
          ticks: { font: tickFont, color: '#000', padding: p.yTickPad, autoSkip: false, callback: v => String(v) }
        }
      }
    }
  });
}

makePanel('chartA', { title: 'sujet A', titleY: 25, yLabel: 'S(i+187)', loops: loopsA, excursions: excursionsA,
  ticks: ticksA, range: rangeA, top: 56, right: 16, yWidth: 125, xHeight: 82,
  xTickPad: 14, yTickPad: 8, xLabelY: 488, yLabelX: 29 });
makePanel('chartB', { title: 'sujet B', titleY: 25, yLabel: 'S(i+192)', loops: loopsB, excursions: excursionsB,
  ticks: ticksB, range: rangeB, top: 56, right: 19, yWidth: 138, xHeight: 82,
  xTickPad: 14, yTickPad: 10, xLabelY: 488, yLabelX: 46 });
makePanel('chartC', { title: 'sujet C', titleY: 28, yLabel: 'S(i+195)', loops: loopsC, excursions: excursionsC,
  ticks: ticksC, range: rangeC, top: 60, right: 16, yWidth: 125, xHeight: 78,
  xTickPad: 13, yTickPad: 8, xLabelY: 491, yLabelX: 28 });
makePanel('chartD', { title: 'sujet D', titleY: 28, yLabel: 'S(i+348)', loops: loopsD, excursions: excursionsD,
  ticks: ticksD, range: rangeD, top: 60, right: 19, yWidth: 138, xHeight: 78,
  xTickPad: 13, yTickPad: 10, xLabelY: 492, yLabelX: 55 });
</script>
</body>
</html>
